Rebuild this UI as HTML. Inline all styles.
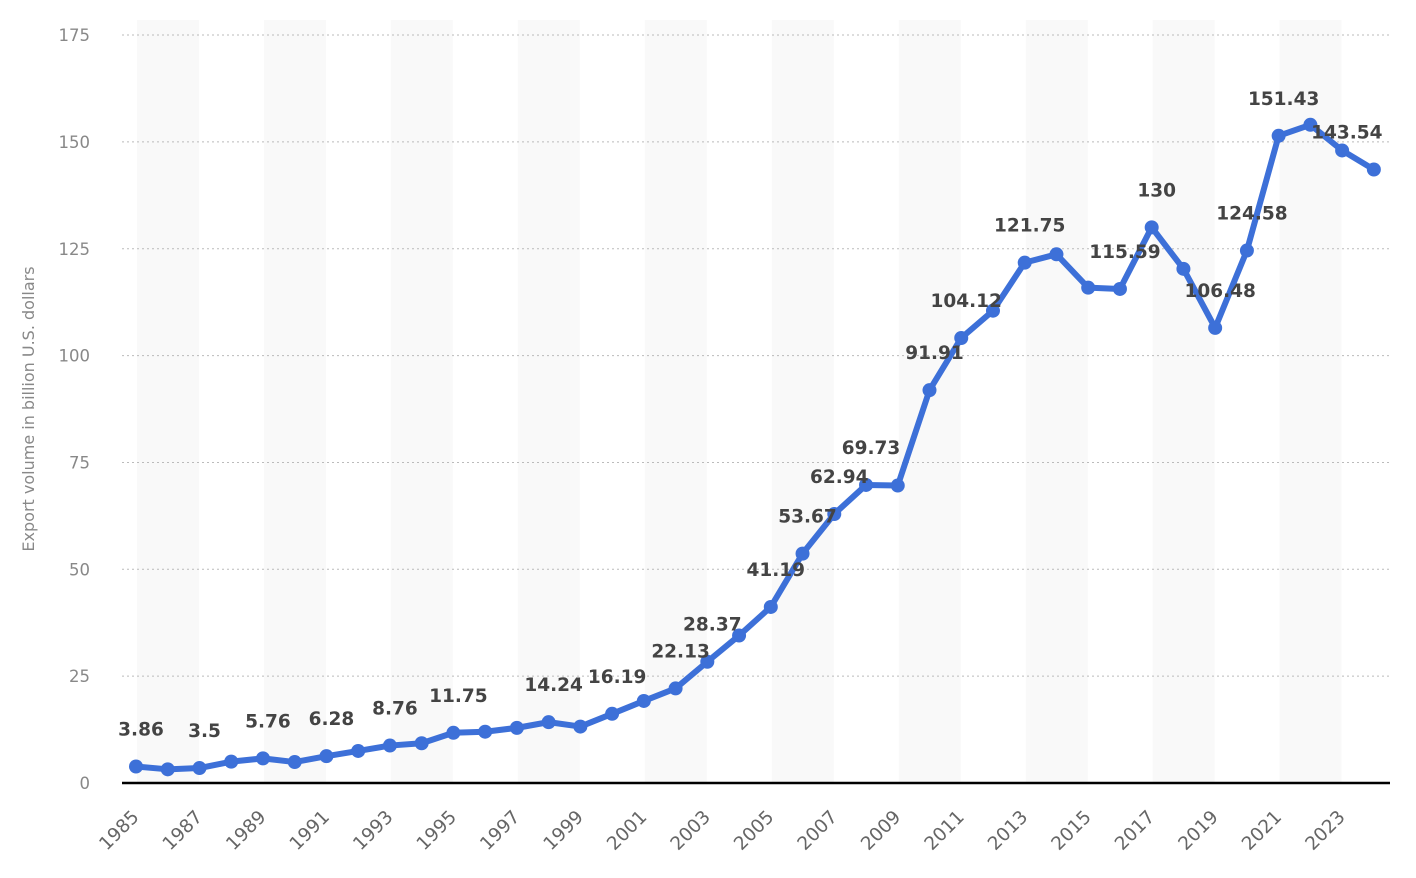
<!DOCTYPE html>
<html><head><meta charset="utf-8"><style>
html,body{margin:0;padding:0;background:#fff;}
svg{display:block;font-family:"DejaVu Sans","Liberation Sans",sans-serif;}
</style></head><body>
<svg id="c" width="1416" height="878" xmlns="http://www.w3.org/2000/svg">
<g id="bands"></g>
<g id="grid"></g>
<line x1="122" y1="783" x2="1390" y2="783" stroke="#000" stroke-width="2.5"/>
<text transform="translate(34,409) rotate(-90)" text-anchor="middle" font-size="16" fill="#888">Export volume in billion U.S. dollars</text>
<g id="yl"></g><g id="xl"></g><g id="ln"></g><g id="lab"></g>
</svg>
<script>
const NS="http://www.w3.org/2000/svg";
function el(p,t,a,txt){const e=document.createElementNS(NS,t);for(const k in a)e.setAttribute(k,a[k]);if(txt!=null)e.textContent=txt;document.getElementById(p).appendChild(e);return e;}
const X=y=>136+(y-1985)*31.74, Y=v=>783-v*4.274;
for(let y=1985;y<2024;y+=4)el("bands","rect",{x:X(y)+1,y:20,width:62,height:763,fill:"#f9f9f9"});
for(let v=25;v<=175;v+=25)el("grid","line",{x1:122,x2:1390,y1:Y(v),y2:Y(v),stroke:"#bbb","stroke-dasharray":"2,3","stroke-width":1});
for(let v=0;v<=175;v+=25)el("yl","text",{x:90,y:Y(v)+6,"text-anchor":"end","font-size":16.5,fill:"#888"},v);
for(let y=1985;y<=2023;y+=2)el("xl","text",{transform:`translate(${X(y)+4},${818}) rotate(-45)`,"text-anchor":"end","font-size":18.5,fill:"#666"},y);
const d=[3.86,3.2,3.5,5.0,5.76,4.9,6.28,7.5,8.76,9.3,11.75,12.0,12.9,14.24,13.2,16.19,19.2,22.13,28.37,34.5,41.19,53.67,62.94,69.73,69.6,91.91,104.12,110.5,121.75,123.7,115.9,115.59,130,120.3,106.48,124.58,151.43,154,148,143.54];
el("ln","polyline",{points:d.map((v,i)=>X(1985+i)+","+Y(v)).join(" "),fill:"none",stroke:"#3d70d8","stroke-width":6,"stroke-linejoin":"round"});
d.forEach((v,i)=>el("ln","circle",{cx:X(1985+i),cy:Y(v),r:7,fill:"#3d70d8"}));
const L={1985:0,1987:0,1989:0,1991:0,1993:0,1995:0,1998:0,2000:0,2002:0,2003:0,2005:0,2006:0,2007:0,2008:0,2010:0,2011:0,2013:0,2016:0,2017:0,2019:0,2020:0,2021:0,2024:-32};
for(const k in L){const i=k-1985;el("lab","text",{x:X(+k)+5+L[k],y:Y(d[i])-31,"text-anchor":"middle","font-size":18.5,"font-weight":"bold",fill:"#444"},String(d[i]));}
</script>
</body></html>
